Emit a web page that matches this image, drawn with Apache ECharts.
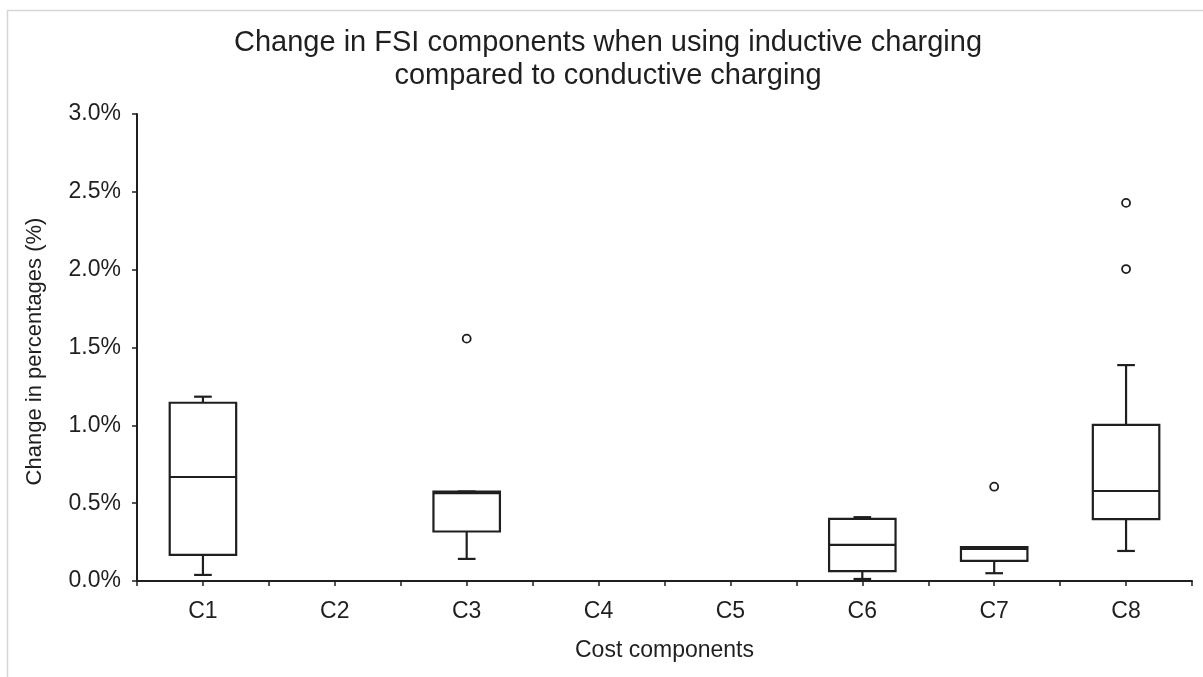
<!DOCTYPE html>
<html>
<head>
<meta charset="utf-8">
<script src="https://cdn.jsdelivr.net/npm/echarts@6/dist/echarts.min.js"></script>
<style>
html,body{margin:0;padding:0;background:#fff;}
#chart{width:1203px;height:677px;}
</style>
</head>
<body>
<div id="chart"></div>
<script>
// ---- data (values in %) ----
var categories = ['C1', 'C2', 'C3', 'C4', 'C5', 'C6', 'C7', 'C8'];
// [category, whiskerLow, Q1, median, Q3, whiskerHigh]
var boxC1 = ['C1', 0.039, 0.168, 0.668, 1.145, 1.184];
var boxC3 = ['C3', 0.142, 0.318, 0.565, 0.575, 0.575];
var boxC6 = ['C6', 0.013, 0.064, 0.232, 0.399, 0.410];
var boxC7 = ['C7', 0.050, 0.129, 0.206, 0.217, 0.217];
var boxC8 = ['C8', 0.193, 0.398, 0.578, 1.003, 1.387];
var outliers = [['C3', 1.557], ['C7', 0.606], ['C8', 2.429], ['C8', 2.004]];
var yTicks = [0, 0.5, 1.0, 1.5, 2.0, 2.5, 3.0];

var boxes = [boxC1, boxC3, boxC6, boxC7, boxC8].map(function (b) {
  return [categories.indexOf(b[0])].concat(b.slice(1));
});
var outlierPts = outliers.map(function (o) {
  return [categories.indexOf(o[0]), o[1]];
});

var FONT = "'Liberation Sans', Arial, sans-serif";
var INK = '#1f1f1f';

var chart = echarts.init(document.getElementById('chart'));

function renderBox(params, api) {
  var x = api.value(0);
  var band = api.size([1, 0])[0];
  var half = band * 0.252;
  var cap = band * 0.067;
  var pLow = api.coord([x, api.value(1)]);
  var pQ1 = api.coord([x, api.value(2)]);
  var pMed = api.coord([x, api.value(3)]);
  var pQ3 = api.coord([x, api.value(4)]);
  var pHigh = api.coord([x, api.value(5)]);
  var cx = pQ1[0];
  var st = { stroke: INK, lineWidth: 2.2, fill: null };
  return {
    type: 'group',
    children: [
      { type: 'line', shape: { x1: cx, y1: pQ1[1], x2: cx, y2: pLow[1] }, style: st },
      { type: 'line', shape: { x1: cx - cap, y1: pLow[1], x2: cx + cap, y2: pLow[1] }, style: st },
      { type: 'line', shape: { x1: cx, y1: pQ3[1], x2: cx, y2: pHigh[1] }, style: st },
      { type: 'line', shape: { x1: cx - cap, y1: pHigh[1], x2: cx + cap, y2: pHigh[1] }, style: st },
      { type: 'rect', shape: { x: cx - half, y: pQ3[1], width: 2 * half, height: pQ1[1] - pQ3[1] }, style: { stroke: INK, lineWidth: 2.2, fill: '#fff' } },
      { type: 'line', shape: { x1: cx - half, y1: pMed[1], x2: cx + half, y2: pMed[1] }, style: st }
    ]
  };
}

chart.setOption({
  animation: false,
  backgroundColor: '#fff',
  title: {
    text: 'Change in FSI components when using inductive charging\ncompared to conductive charging',
    left: 608,
    top: 26,
    textAlign: 'center',
    padding: 0,
    textStyle: { fontFamily: FONT, fontSize: 29, fontWeight: 'normal', color: INK, lineHeight: 33 }
  },
  graphic: [{
    type: 'rect', silent: true,
    shape: { x: 7.5, y: 10.5, width: 1400, height: 1000 },
    style: { fill: null, stroke: '#d6d6d6', lineWidth: 1.5 }
  }],
  grid: { left: 137, right: 11, top: 114, bottom: 96 },
  xAxis: [{
    type: 'category',
    data: categories,
    boundaryGap: true,
    name: 'Cost components',
    nameLocation: 'middle',
    nameGap: 58,
    nameTextStyle: { fontFamily: FONT, fontSize: 23, color: INK },
    axisLine: { lineStyle: { color: INK, width: 2 } },
    axisTick: { show: true, interval: 0, length: 5, lineStyle: { color: INK, width: 1.5 } },
    axisLabel: { interval: 0, margin: 19, fontFamily: FONT, fontSize: 23, color: INK },
    splitLine: { show: false }
  }, {
    type: 'category',
    data: categories,
    boundaryGap: true,
    position: 'bottom',
    axisLine: { show: false },
    axisTick: { show: true, alignWithLabel: true, interval: 0, length: 5, lineStyle: { color: INK, width: 1.5 } },
    axisLabel: { show: false },
    splitLine: { show: false }
  }],
  yAxis: {
    type: 'value',
    min: yTicks[0],
    max: yTicks[yTicks.length - 1],
    interval: 0.5,
    name: 'Change in percentages (%)',
    nameLocation: 'middle',
    nameGap: 91,
    nameTextStyle: { fontFamily: FONT, fontSize: 22, color: INK, padding: [0, 8, 0, 0] },
    axisLine: { show: true, lineStyle: { color: INK, width: 2 } },
    axisTick: { show: true, length: 5, lineStyle: { color: INK, width: 1.5 } },
    axisLabel: { margin: 16, fontFamily: FONT, fontSize: 23, color: INK,
      formatter: function (v) { return v.toFixed(1) + '%'; } },
    splitLine: { show: false }
  },
  series: [{
    type: 'custom',
    xAxisIndex: 0,
    yAxisIndex: 0,
    renderItem: renderBox,
    encode: { x: 0, y: [1, 2, 3, 4, 5] },
    data: boxes,
    z: 3
  }, {
    type: 'scatter',
    xAxisIndex: 0,
    yAxisIndex: 0,
    data: outlierPts,
    symbol: 'circle',
    symbolSize: 8,
    itemStyle: { color: '#ffffff', borderColor: INK, borderWidth: 1.8, opacity: 1 },
    z: 10
  }]
});
</script>
</body>
</html>
